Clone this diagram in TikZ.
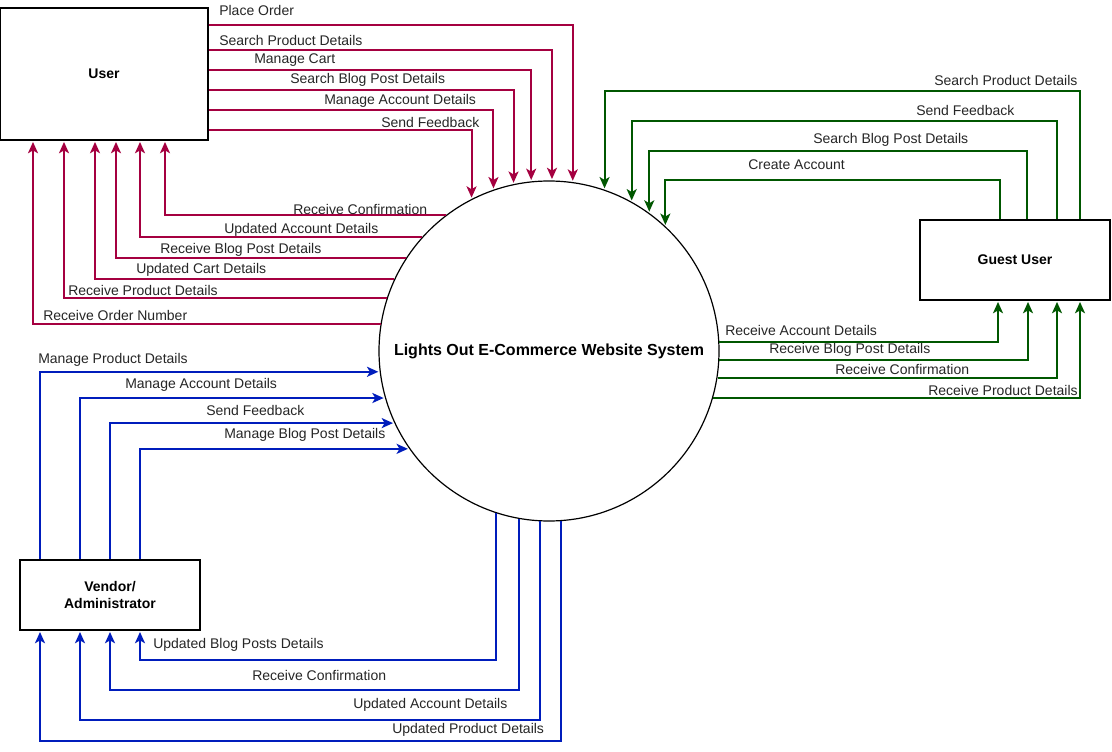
\documentclass[tikz,border=0pt]{standalone}
\usepackage{fontspec}
\setmainfont{Liberation Sans}
\usetikzlibrary{arrows.meta}
\definecolor{ucol}{HTML}{A50040}
\definecolor{gcol}{HTML}{005700}
\definecolor{vcol}{HTML}{001DBC}
\tikzset{
  ent/.style={draw=black, line width=0.9pt, fill=white, font=\fontsize{10.5}{12.5}\selectfont\bfseries, align=center, inner sep=0pt},
  flow/.style={line width=1.5pt, -{Stealth[length=8.5pt,width=7.5pt,inset=2.2pt]}, shorten >=1pt},
  uarr/.style={flow, draw=ucol, ucol},
  garr/.style={flow, draw=gcol, gcol},
  varr/.style={flow, draw=vcol, vcol},
  lbl/.style={anchor=west, inner sep=0pt, font=\fontsize{10.5}{12.5}\selectfont, text=black!85}
}
\begin{document}
\begin{tikzpicture}[x=0.75pt, y=-0.75pt]
\fill[white] (0,0) rectangle (1112,752);
\useasboundingbox (0,0) rectangle (1112,752);

% entities
\node[ent, minimum width=156pt, minimum height=99pt] (user) at (104,74) {User};
\node[ent, minimum width=142.5pt, minimum height=60pt] (guest) at (1015,260) {Guest User};
\node[ent, minimum width=135pt, minimum height=52.5pt] (vendor) at (110,595) {Vendor/\\Administrator};
\node[circle, draw=black, line width=0.9pt, fill=white, minimum size=255pt, inner sep=0pt,
      font=\fontsize{12}{14}\selectfont\bfseries] (sys) at (549,351) {Lights Out E-Commerce Website System};

% User -> system
\draw[uarr] (user.east |- 0,25)  -| (sys.82.91);
\draw[uarr] (user.east |- 0,50)  -| (sys.89.33);
\draw[uarr] (user.east |- 0,70)  -| (sys.96.42);
\draw[uarr] (user.east |- 0,90)  -| (sys.102.92);
\draw[uarr] (user.east |- 0,110) -| (sys.109.95);
\draw[uarr] (user.east |- 0,130) -| (sys.117.31);
\node[lbl] (u1) at (219,10)  {Place Order};
\node[lbl] (u2) at (219,40)  {Search Product Details};
\node[lbl] (u3) at (254,60)  {Manage Cart};
\node[lbl] (u4) at (290,80)  {Search Blog Post Details};
\node[lbl] (u5) at (324,101) {Manage Account Details};
\node[lbl] (u6) at (381,122) {Send Feedback};

% system -> User
\draw[uarr] (sys.127.98) -| (user.south -| 165,0);
\draw[uarr] (sys.138.34) -| (user.south -| 140,0);
\draw[uarr] (sys.147.24) -| (user.south -| 116,0);
\draw[uarr] (sys.155.31) -| (user.south -| 95,0);
\draw[uarr] (sys.162.54) -| (user.south -| 64,0);
\draw[uarr] (sys.171.54) -| (user.south -| 33,0);
\node[lbl] (u7)  at (293,209) {Receive Confirmation};
\node[lbl] (u8)  at (224,230) {Updated Account Details};
\node[lbl] (u9)  at (160,250) {Receive Blog Post Details};
\node[lbl] (u10) at (136,270) {Updated Cart Details};
\node[lbl] (u11) at (68,290)  {Receive Product Details};
\node[lbl] (u12) at (43,315)  {Receive Order Number};

% Guest -> system
\coordinate (g1) at (1080,91);
\coordinate (g2) at (1057,121);
\coordinate (g3) at (1027,151);
\coordinate (g4) at (1000,180);
\draw[garr] (guest.north -| g1) -- (g1) -| (sys.71.12);
\draw[garr] (guest.north -| g2) -- (g2) -| (sys.61.93);
\draw[garr] (guest.north -| g3) -- (g3) -| (sys.54.80);
\draw[garr] (guest.north -| g4) -- (g4) -| (sys.47.43);
\node[lbl] (g1l) at (934,80)  {Search Product Details};
\node[lbl] (g2l) at (916,110) {Send Feedback};
\node[lbl] (g3l) at (813,140) {Search Blog Post Details};
\node[lbl] (g4l) at (748,165) {Create Account};

% system -> Guest
\draw[garr] (sys.3.71)   -| (guest.south -| 998,0);
\draw[garr] (sys.-3.03)  -| (guest.south -| 1028,0);
\draw[garr] (sys.-9.48)  -| (guest.south -| 1057,0);
\draw[garr] (sys.-16.75) -| (guest.south -| 1080,0);
\node[lbl] (g5l) at (725,330) {Receive Account Details};
\node[lbl] (g6l) at (769,350) {Receive Blog Post Details};
\node[lbl] (g7l) at (835,369) {Receive Confirmation};
\node[lbl] (g8l) at (928,390) {Receive Product Details};

% Vendor -> system
\draw[varr] (vendor.north -| 40,0)  |- (sys.187.44);
\draw[varr] (vendor.north -| 80,0)  |- (sys.196.75);
\draw[varr] (vendor.north -| 110,0) |- (sys.205.43);
\draw[varr] (vendor.north -| 140,0) |- (sys.215.20);
\node[lbl] (v1l) at (38,360)  {Manage Product Details};
\node[lbl] (v2l) at (125,385) {Manage Account Details};
\node[lbl] (v3l) at (206,410) {Send Feedback};
\node[lbl] (v4l) at (224,435) {Manage Blog Post Details};

% system -> Vendor
\coordinate (v1) at (140,660);
\coordinate (v2) at (110,690);
\coordinate (v3) at (80,720);
\coordinate (v4) at (40,741);
\draw[varr] (sys.252.19) |- (v1) -- (vendor.south -| v1);
\draw[varr] (sys.260.52) |- (v2) -- (vendor.south -| v2);
\draw[varr] (sys.267.64) |- (v3) -- (vendor.south -| v3);
\draw[varr] (sys.274.05) |- (v4) -- (vendor.south -| v4);
\node[lbl] (v5l) at (153,645) {Updated Blog Posts Details};
\node[lbl] (v6l) at (252,675) {Receive Confirmation};
\node[lbl] (v7l) at (353,705) {Updated Account Details};
\node[lbl] (v8l) at (392,730) {Updated Product Details};
\end{tikzpicture}
\end{document}
